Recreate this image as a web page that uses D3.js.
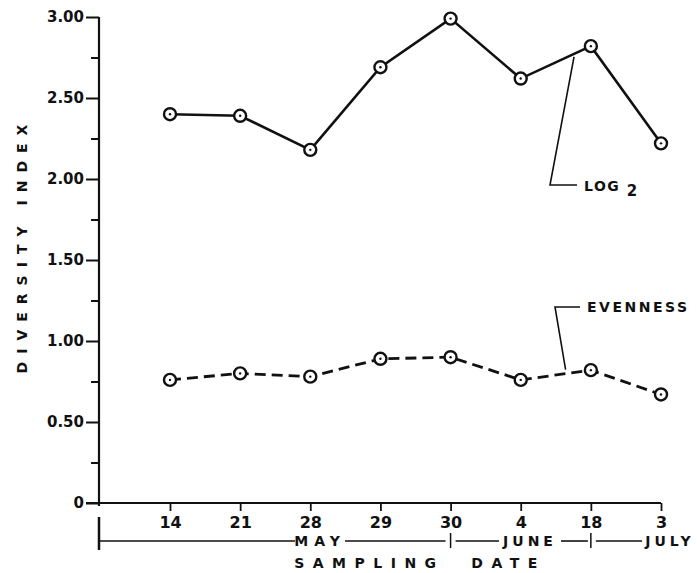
<!DOCTYPE html>
<html>
<head>
<meta charset="utf-8">
<script src="https://cdn.jsdelivr.net/npm/d3@7"></script>
<style>
    body { margin: 0; background: #fff; }
    text { font-family: "DejaVu Sans", sans-serif; font-weight: bold; fill: #111; }
</style>
</head>
<body>
<svg id="chart" width="697" height="573"></svg>
<script>
// Data
const dates = ["14", "21", "28", "29", "30", "4", "18", "3"];
const log2Values = [2.40, 2.39, 2.18, 2.69, 2.99, 2.62, 2.82, 2.22];
const evennessValues = [0.76, 0.80, 0.78, 0.89, 0.90, 0.76, 0.82, 0.67];
const yTicks = [0, 0.5, 1.0, 1.5, 2.0, 2.5, 3.0];
const yMinorTicks = [0.25, 0.75, 1.25, 1.75, 2.25, 2.75];
const months = ["MAY", "JUNE", "JULY"];
const monthBreaks = ["30", "18"];

const svg = d3.select("#chart");
const ink = "#111";

// Scales
const x = d3.scalePoint().domain(dates).range([170, 661]);
const y = d3.scaleLinear().domain([0, 3]).range([503, 17]);
const axisX = 99;

// Y axis (major ticks with labels)
const yAxis = svg.append("g")
    .attr("transform", `translate(${axisX},0)`)
    .call(d3.axisLeft(y)
        .tickValues(yTicks)
        .tickSize(13)
        .tickPadding(2)
        .tickFormat(d => d === 0 ? "0" : d3.format(".2f")(d)));
yAxis.select(".domain").remove();
yAxis.selectAll("line").attr("stroke", ink).attr("stroke-width", 2);
yAxis.selectAll("text")
    .style("font-size", "15px")
    .style("font-family", "DejaVu Sans")
    .style("font-weight", "bold")
    .attr("fill", ink);

// minor ticks
const yMinor = svg.append("g")
    .attr("transform", `translate(${axisX},0)`)
    .call(d3.axisLeft(y).tickValues(yMinorTicks).tickSize(8).tickFormat(""));
yMinor.select(".domain").remove();
yMinor.selectAll("line").attr("stroke", ink).attr("stroke-width", 2);

// y axis line
svg.append("line")
    .attr("x1", axisX).attr("x2", axisX)
    .attr("y1", y(3)).attr("y2", y(0) + 3)
    .attr("stroke", ink).attr("stroke-width", 2.2);

// X axis
const xAxis = svg.append("g")
    .attr("transform", `translate(0,${y(0)})`)
    .call(d3.axisBottom(x).tickSize(8).tickPadding(6));
xAxis.select(".domain").remove();
xAxis.selectAll("line").attr("stroke", ink).attr("stroke-width", 1.8);
xAxis.selectAll("text")
    .style("font-size", "16px")
    .style("font-family", "DejaVu Sans")
    .style("font-weight", "bold")
    .attr("fill", ink);

svg.append("line")
    .attr("x1", axisX - 13).attr("x2", x(dates[dates.length - 1]))
    .attr("y1", y(0)).attr("y2", y(0))
    .attr("stroke", ink).attr("stroke-width", 2);

// Month bracket
const bracketY = 541;
svg.append("line")
    .attr("x1", axisX).attr("x2", axisX)
    .attr("y1", 517).attr("y2", 550)
    .attr("stroke", ink).attr("stroke-width", 2.5);

monthBreaks.forEach(d => {
    svg.append("line")
        .attr("x1", x(d)).attr("x2", x(d))
        .attr("y1", bracketY - 8).attr("y2", bracketY + 7)
        .attr("stroke", ink).attr("stroke-width", 1.5);
});

// bracket segments around month labels
const monthLabelX = [320, 530, 670];
const monthLabelHalf = [25, 31, 28];
const segs = [
    [axisX, monthLabelX[0] - monthLabelHalf[0]],
    [monthLabelX[0] + monthLabelHalf[0], x(monthBreaks[0]) - 5],
    [x(monthBreaks[0]) + 5, monthLabelX[1] - monthLabelHalf[1]],
    [monthLabelX[1] + monthLabelHalf[1], x(monthBreaks[1]) - 3],
    [x(monthBreaks[1]) + 5, monthLabelX[2] - monthLabelHalf[2]]
];
segs.forEach(s => {
    svg.append("line")
        .attr("x1", s[0]).attr("x2", s[1])
        .attr("y1", bracketY).attr("y2", bracketY)
        .attr("stroke", ink).attr("stroke-width", 1.6);
});

months.forEach((m, i) => {
    svg.append("text")
        .attr("x", monthLabelX[i])
        .attr("y", bracketY + 5)
        .attr("text-anchor", "middle")
        .style("font-size", "14px")
        .style("letter-spacing", i === 0 ? "6px" : "4px")
        .text(m);
});

svg.append("text")
    .attr("x", 420)
    .attr("y", 568)
    .attr("text-anchor", "middle")
    .style("font-size", "14px")
    .style("letter-spacing", "8.5px")
    .attr("xml:space", "preserve")
    .text("SAMPLING  DATE");

// Y axis title
svg.append("text")
    .attr("transform", `translate(27,245) rotate(-90)`)
    .attr("text-anchor", "middle")
    .style("font-size", "14px")
    .style("letter-spacing", "8px")
    .text("DIVERSITY INDEX");

// Lines
const line = d3.line()
    .x((d, i) => x(dates[i]))
    .y(d => y(d));

svg.append("path")
    .datum(log2Values)
    .attr("d", line)
    .attr("fill", "none")
    .attr("stroke", ink)
    .attr("stroke-width", 2.6);

svg.append("path")
    .datum(evennessValues)
    .attr("d", line)
    .attr("fill", "none")
    .attr("stroke", ink)
    .attr("stroke-width", 2.8)
    .attr("stroke-dasharray", "11 6");

// Markers
[log2Values, evennessValues].forEach(vals => {
    const g = svg.append("g");
    g.selectAll("circle.m")
        .data(vals)
        .enter().append("circle")
        .attr("class", "m")
        .attr("cx", (d, i) => x(dates[i]))
        .attr("cy", d => y(d))
        .attr("r", 6)
        .attr("fill", "#fff")
        .attr("stroke", ink)
        .attr("stroke-width", 2.4);
    g.selectAll("circle.c")
        .data(vals)
        .enter().append("circle")
        .attr("class", "c")
        .attr("cx", (d, i) => x(dates[i]))
        .attr("cy", d => y(d))
        .attr("r", 1.2)
        .attr("fill", ink);
});

// Leader for LOG 2
function along(vals, i, t) {
    return [
        x(dates[i]) + t * (x(dates[i + 1]) - x(dates[i])),
        y(vals[i]) + t * (y(vals[i + 1]) - y(vals[i]))
    ];
}
const lp = along(log2Values, 5, 0.76);
svg.append("path")
    .attr("d", `M${lp[0]},${lp[1] + 3} L550,185 L577,185`)
    .attr("fill", "none")
    .attr("stroke", ink)
    .attr("stroke-width", 1.6);
const logText = svg.append("text")
    .attr("x", 584)
    .attr("y", 191)
    .style("font-size", "14px")
    .style("letter-spacing", "1.5px");
logText.append("tspan").text("LOG ");
logText.append("tspan").attr("dy", 5).style("font-size", "15px").text("2");

// Leader for EVENNESS
const ep = along(evennessValues, 5, 0.64);
svg.append("path")
    .attr("d", `M${ep[0]},${ep[1] - 4} L555,307 L580,307`)
    .attr("fill", "none")
    .attr("stroke", ink)
    .attr("stroke-width", 1.6);
svg.append("text")
    .attr("x", 587)
    .attr("y", 312)
    .style("font-size", "14px")
    .style("letter-spacing", "2.5px")
    .text("EVENNESS");
</script>
</body>
</html>
